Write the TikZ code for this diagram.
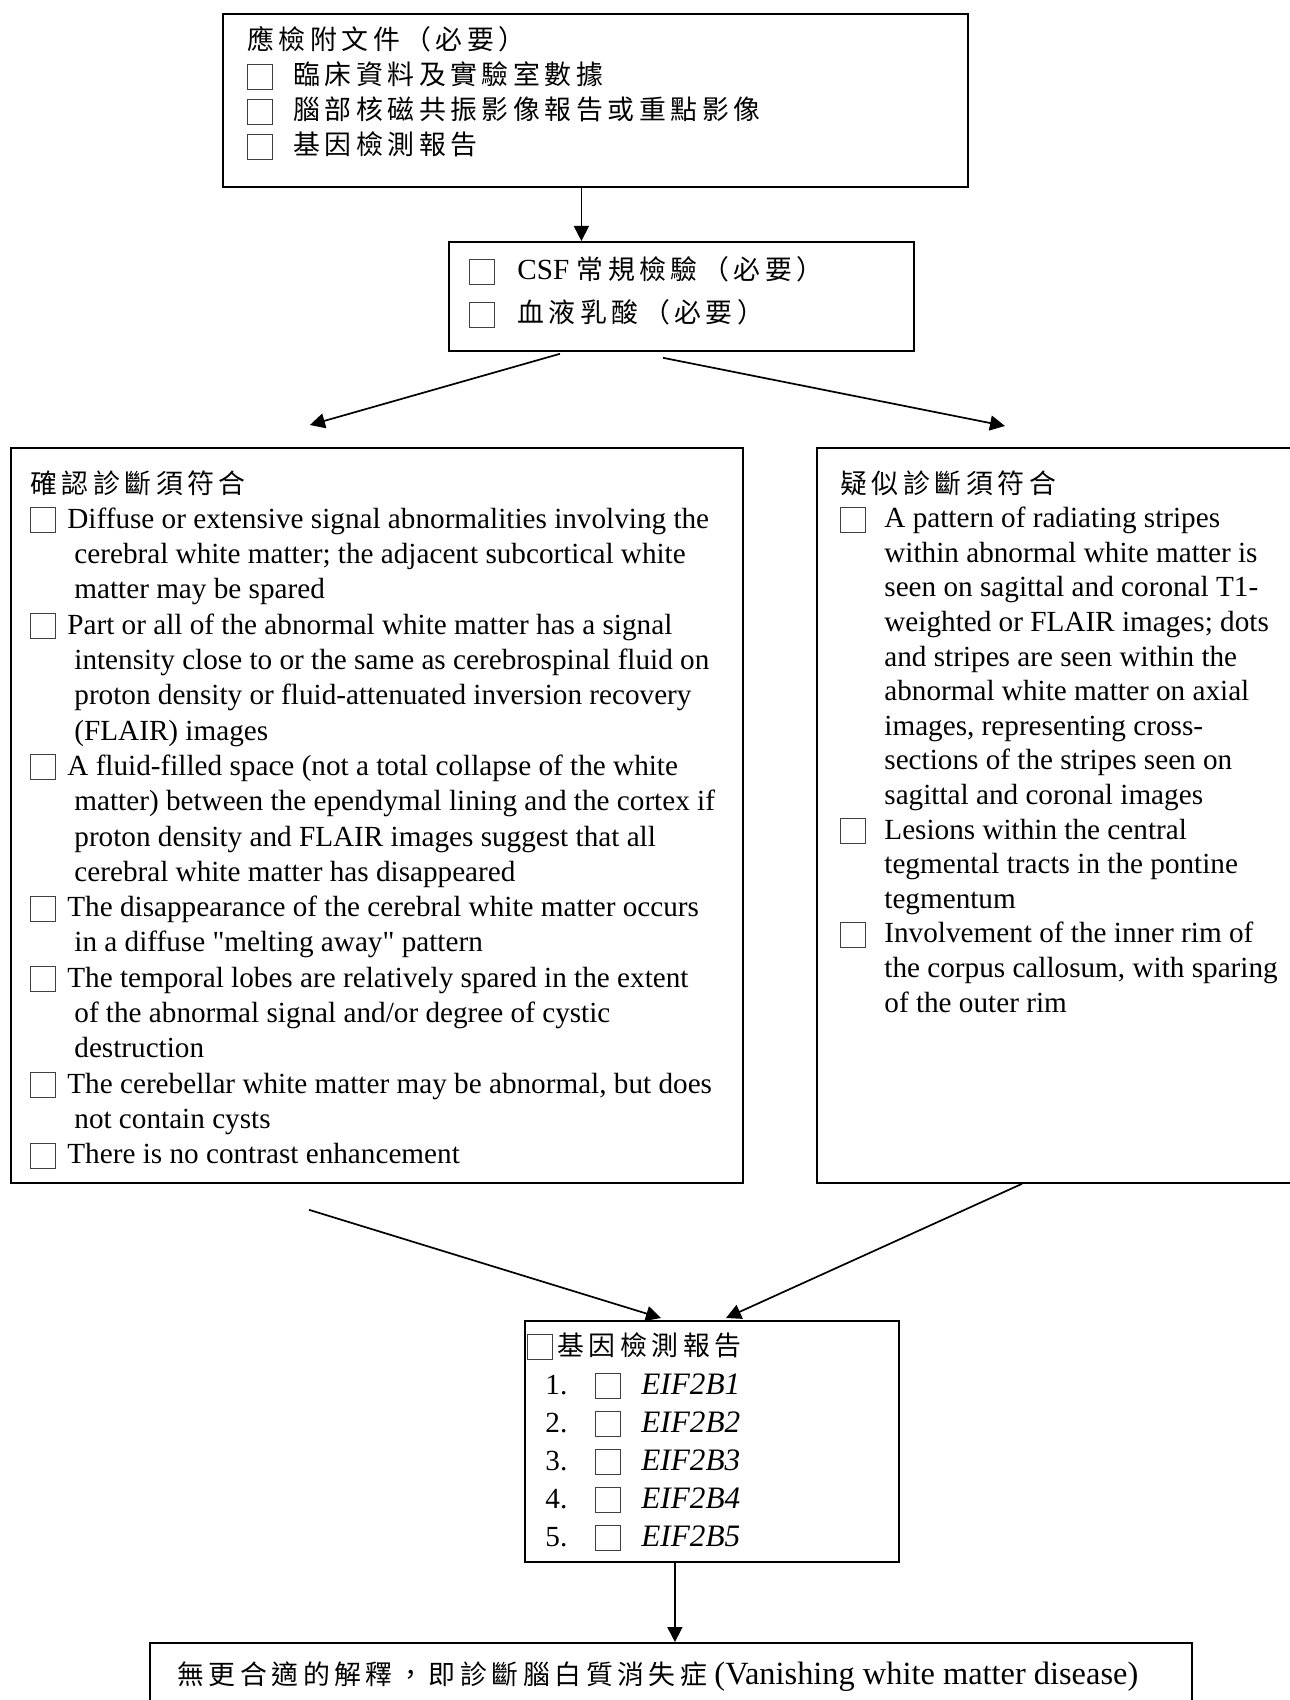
\documentclass[tikz,border=0pt]{standalone}
\usepackage{fontspec}
\setmainfont{Liberation Serif}
\newfontfamily\qfont{Liberation Serif}
\newfontfamily\zhfont[Scale=0.92,LetterSpace=17]{Noto Sans CJK TC}
\usepackage{xcolor}
\usepackage{tikz}
\usetikzlibrary{arrows.meta,positioning,calc}
\newcommand{\zh}[1]{{\zhfont #1}}
\newcommand{\dq}{{\qfont"}}
\newcommand{\cbox}{\raisebox{-2pt}{\setlength{\fboxsep}{0pt}\setlength{\fboxrule}{0.5pt}\textcolor{black!75}{\fbox{\rule{0pt}{12pt}\rule{12pt}{0pt}}}}}
\newcommand{\cont}{\hspace*{22pt}}
\tikzset{
  box/.style={draw, line width=0.9pt, inner sep=0pt, anchor=north west},
  txt/.style={anchor=base west, inner sep=0pt, align=left,
              font=\fontsize{14.6}{#1}\selectfont},
  txt/.default=17.5,
  arr/.style={-{Triangle[length=7.5pt,width=7.5pt]}, line width=0.85pt},
}

\begin{document}
\begin{tikzpicture}[x=0.5pt, y=-0.5pt]
    \useasboundingbox (0,0) rectangle (1289,1700);

    \node[box, minimum width=372.5pt, minimum height=86.5pt] (docs) at (222,13) {};
    \node[box, minimum width=232.5pt, minimum height=54.5pt] (csf) at (448,241) {};
    \node[box, minimum width=366pt, minimum height=367.5pt] (confirm) at (10,447) {};
    \node[box, minimum width=250pt, minimum height=367.5pt] (suspect) at (816,447) {};
    \node[box, minimum width=187pt, minimum height=120.5pt] (gene) at (524,1320) {};
    \node[box, minimum width=521pt, minimum height=45pt] (final) at (149,1642) {};

    \node[txt] (docsT) at (247,50) {\parbox[t]{350pt}{\raggedright
        \zh{應檢附文件（必要）}\\
        \cbox\hspace{10pt}\zh{臨床資料及實驗室數據}\\
        \cbox\hspace{10pt}\zh{腦部核磁共振影像報告或重點影像}\\
        \cbox\hspace{10pt}\zh{基因檢測報告}}};

    \node[txt=21.5] (csfT) at (469,280) {\parbox[t]{220pt}{\raggedright
        \cbox\hspace{11pt}CSF \zh{常規檢驗（必要）}\\
        \cbox\hspace{11pt}\zh{血液乳酸（必要）}}};

    \node[txt=17.65] (confirmT) at (30,493) {\parbox[t]{355pt}{\raggedright
        \zh{確認診斷須符合}\\
        \cbox\hspace{5.5pt}Diffuse or extensive signal abnormalities involving the\\
        \cont cerebral white matter; the adjacent subcortical white\\
        \cont matter may be spared\\
        \cbox\hspace{5.5pt}Part or all of the abnormal white matter has a signal\\
        \cont intensity close to or the same as cerebrospinal fluid on\\
        \cont proton density or fluid-attenuated inversion recovery\\
        \cont (FLAIR) images\\
        \cbox\hspace{5.5pt}A fluid-filled space (not a total collapse of the white\\
        \cont matter) between the ependymal lining and the cortex if\\
        \cont proton density and FLAIR images suggest that all\\
        \cont cerebral white matter has disappeared\\
        \cbox\hspace{5.5pt}The disappearance of the cerebral white matter occurs\\
        \cont in a diffuse \dq melting away\dq{} pattern\\
        \cbox\hspace{5.5pt}The temporal lobes are relatively spared in the extent\\
        \cont of the abnormal signal and/or degree of cystic\\
        \cont destruction\\
        \cbox\hspace{5.5pt}The cerebellar white matter may be abnormal, but does\\
        \cont not contain cysts\\
        \cbox\hspace{5.5pt}There is no contrast enhancement}};

    \node[txt=17.3] (suspectT) at (840,493) {\parbox[t]{230pt}{\raggedright
        \zh{疑似診斷須符合}\\
        \cbox\hspace{9pt}A pattern of radiating stripes\\
        \cont within abnormal white matter is\\
        \cont seen on sagittal and coronal T1-\\
        \cont weighted or FLAIR images; dots\\
        \cont and stripes are seen within the\\
        \cont abnormal white matter on axial\\
        \cont images, representing cross-\\
        \cont sections of the stripes seen on\\
        \cont sagittal and coronal images\\
        \cbox\hspace{9pt}Lesions within the central\\
        \cont tegmental tracts in the pontine\\
        \cont tegmentum\\
        \cbox\hspace{9pt}Involvement of the inner rim of\\
        \cont the corpus callosum, with sparing\\
        \cont of the outer rim}};

    \node[txt] (geneT) at (527,1355) {\cbox\hspace{2pt}\zh{基因檢測報告}};
    \foreach \i in {1,...,5}
      \node[txt] (gene\i) at (545,{1394+(\i-1)*38}) {\makebox[25pt][l]{\i.}\cbox\hspace{10pt}{\fontsize{15.6}{19}\selectfont\textit{EIF2B\i}}};

    \node[txt] (finalT) at (177,1684) {\zh{無更合適的解釋，即診斷腦白質消失症} {\fontsize{16.2}{19}\selectfont (Vanishing white matter disease)}};

    \draw[arr] ([xshift=-7pt]docs.south) -- ([xshift=-7pt]docs.south |- csf.north);
    \draw[arr] ($(csf.south west)+(112,2)$) -- ($(confirm.north)+(-67,-22)$);
    \draw[arr] ($(csf.south west)+(215,6)$) -- ($(suspect.north west)+(189,-21)$);
    \draw[arr] ($(confirm.south west)+(299,26)$) -- ($(gene.north west)+(137,-2)$);
    \draw[arr] ($(suspect.south west)+(206,0)$) -- ($(gene.north west)+(202,-2)$);
    \draw[arr] ([xshift=-18.5pt]gene.south) -- ([xshift=-18.5pt]gene.south |- final.north);
\end{tikzpicture}
\end{document}
